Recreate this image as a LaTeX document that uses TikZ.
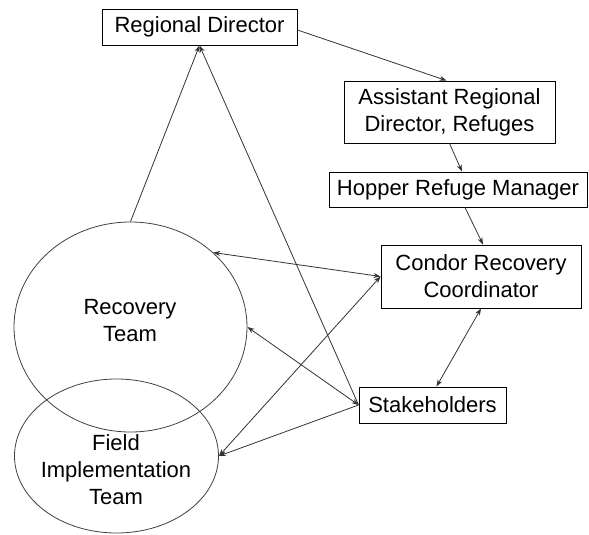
\documentclass[tikz,border=0pt]{standalone}
\usepackage{fontspec}
\setmainfont{Liberation Sans}
\usetikzlibrary{arrows.meta,shapes.geometric}
\begin{document}
\begin{tikzpicture}[x=1pt,y=-1pt,
  every node/.style={font=\fontsize{22}{27}\selectfont, align=center, inner sep=0pt},
  orgbox/.style={draw=black, line width=0.9pt, fill=white},
  team/.style={draw=black!75, line width=0.8pt, ellipse},
  link/.style={draw=black!80, line width=0.8pt},
  tip/.tip={Stealth[length=7pt,width=5pt]}
]
\useasboundingbox (0,0) rectangle (589,535);

% teams
\node[team, minimum width=233pt, minimum height=210pt] (rt) at (130.5,327) {};
\node[team, minimum width=204pt, minimum height=154pt] (fit) at (116.5,456) {};
\node (rtlabel) at (130,321) {Recovery\\Team};
\node (fitlabel) at (116,470) {Field\\Implementation\\Team};

% organisational boxes
\node[orgbox, minimum width=195pt, minimum height=36pt] (rd) at (199.5,27) {Regional Director};
\node[orgbox, minimum width=211pt, minimum height=62pt] (ard) at (449.5,112) {Assistant Regional\\Director, Refuges};
\node[orgbox, minimum width=258pt, minimum height=35pt] (hrm) at (458,189.5) {Hopper Refuge Manager};
\node[orgbox, minimum width=200pt, minimum height=63pt] (crc) at (481,276.5) {Condor Recovery\\Coordinator};
\node[orgbox, minimum width=147pt, minimum height=36pt] (sh) at (432.5,405) {Stakeholders};

% chain of command
\draw[link, -tip] ([yshift=-3pt]rd.east) -- ([xshift=-3pt]ard.north);
\draw[link, -tip] (ard.south) -- ([xshift=4pt]hrm.north);
\draw[link, -tip] ([xshift=7pt]hrm.south) -- ([xshift=2pt]crc.north);
\draw[link, -tip] (rt.north) -- (rd.south);
\draw[link, -tip] (sh.west) -- (rd.south);

% coordination links
\draw[link, tip-tip] (crc.west) -- (rt.42);
\draw[link, tip-tip] (crc.west) -- (fit.east);
\draw[link, tip-tip] (sh.west) -- (rt.east);
\draw[link, -tip] (sh.west) -- (fit.east);
\draw[link, tip-tip] (crc.south) -- ([xshift=4pt]sh.north);
\end{tikzpicture}
\end{document}
